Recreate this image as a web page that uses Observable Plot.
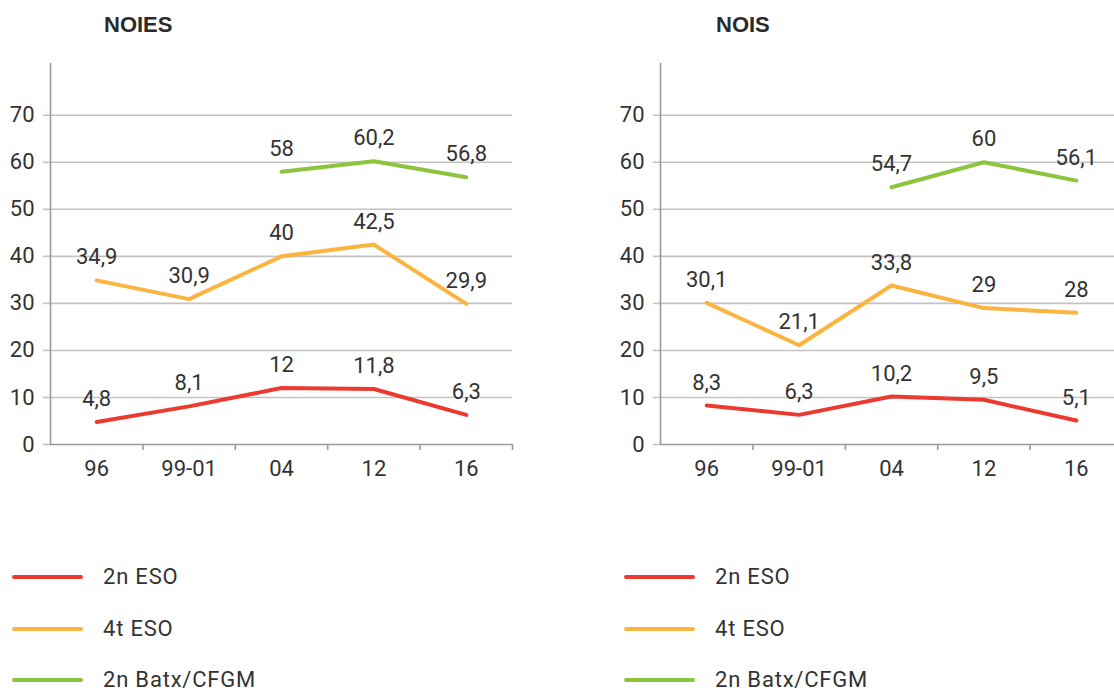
<!DOCTYPE html>
<html>
<head>
<meta charset="utf-8">
<script src="https://cdn.jsdelivr.net/npm/d3@7"></script>
<script src="https://cdn.jsdelivr.net/npm/@observablehq/plot@0.6"></script>
<style>
  html, body { margin: 0; padding: 0; background: #fff; overflow: hidden; }
  #page { position: relative; width: 1114px; height: 691px; overflow: hidden; }
  .title { position: absolute; font-family: "Liberation Sans", Arial, sans-serif; font-weight: bold; font-size: 22px; line-height: 22px; color: #2b2b2b; }
  .panel { position: absolute; top: 50px; }
  .panel svg { max-width: none !important; }
  .leg { position: absolute; height: 16px; display: flex; align-items: center; font-family: Roboto, sans-serif; font-size: 22px; line-height: 16px; color: #333; letter-spacing: 0.8px; white-space: nowrap; }
  .leg .sw { width: 71px; height: 4px; border-radius: 2px; margin-right: 20px; }
</style>
</head>
<body>
<div id="page"></div>
<script>
// ---- data ----
const categories = ["96", "99-01", "04", "12", "16"];
const seriesNames = ["2n ESO", "4t ESO", "2n Batx/CFGM"];
const seriesColors = ["#eb3a2f", "#fbb43f", "#8cc43d"];
const panelTitles = ["NOIES", "NOIS"];

const noies2ESO  = [4.8, 8.1, 12, 11.8, 6.3];
const noies4ESO  = [34.9, 30.9, 40, 42.5, 29.9];
const noiesBatx  = [null, null, 58, 60.2, 56.8];

const nois2ESO   = [8.3, 6.3, 10.2, 9.5, 5.1];
const nois4ESO   = [30.1, 21.1, 33.8, 29, 28];
const noisBatx   = [null, null, 54.7, 60, 56.1];

const yTicks = [0, 10, 20, 30, 40, 50, 60, 70];

// ---- helpers ----
const fmt = v => String(v).replace(".", ",");
function rowsFor(seriesArrays) {
  const rows = [];
  seriesArrays.forEach((arr, s) => {
    arr.forEach((v, i) => rows.push({series: seriesNames[s], i, value: v}));
  });
  return rows;
}

const catIdx = categories.map((_, i) => i);
const boundaries = categories.map((_, i) => i + 0.5);

function makePanel(seriesArrays, opts) {
  const rows = rowsFor(seriesArrays);
  return Plot.plot({
    width: opts.width,
    height: 440,
    marginLeft: opts.marginLeft,
    marginRight: opts.marginRight,
    marginTop: 13,
    marginBottom: 46,
    style: {fontFamily: "Roboto, sans-serif", fontSize: "22px", color: "#333", background: "transparent", overflow: "visible"},
    x: {type: "linear", domain: [-0.5, categories.length - 0.5]},
    y: {domain: [0, 81]},
    color: {domain: seriesNames, range: seriesColors},
    marks: [
      Plot.gridY(yTicks.filter(t => t > 0), {stroke: "#c3c3c3", strokeOpacity: 1, strokeWidth: 1.6}),
      Plot.axisY(yTicks, {label: null, tickSize: 7, tickPadding: 9, stroke: "#c3c3c3", strokeWidth: 1.6, fill: "#333", fontSize: 22, letterSpacing: 0.5}),
      Plot.ruleX([-0.5], {stroke: "#9a9a9a", strokeWidth: 1.6}),
      Plot.ruleY([0], {stroke: "#9a9a9a", strokeWidth: 1.6}),
      Plot.axisX(boundaries, {label: null, tickSize: 6, tickFormat: () => "", stroke: "#9a9a9a", strokeWidth: 1.6}),
      Plot.axisX(catIdx, {label: null, tickSize: 0, tickPadding: 16, tickFormat: i => categories[i], fill: "#333", fontSize: 22, letterSpacing: 0.5}),
      Plot.line(rows, {x: "i", y: "value", z: "series", stroke: "series", strokeWidth: 4, strokeLinejoin: "round", strokeLinecap: "round"}),
      Plot.text(rows.filter(d => d.value != null), {x: "i", y: "value", text: d => fmt(d.value), dy: -23, fill: "#333", fontSize: 22, letterSpacing: 0.8, lineAnchor: "middle"})
    ]
  });
}

const page = document.getElementById("page");

const panels = [
  {data: [noies2ESO, noies4ESO, noiesBatx], left: 0, width: 557, marginLeft: 50, marginRight: 45, titleX: 104, legLineX: 12},
  {data: [nois2ESO, nois4ESO, noisBatx], left: 557, width: 580, marginLeft: 103, marginRight: 15, titleX: 716, legLineX: 624}
];

panels.forEach((p, k) => {
  const t = document.createElement("div");
  t.className = "title";
  t.style.left = p.titleX + "px";
  t.style.top = "14px";
  t.textContent = panelTitles[k];
  page.appendChild(t);

  const wrap = document.createElement("div");
  wrap.className = "panel";
  wrap.style.left = p.left + "px";
  wrap.style.width = p.width + "px";
  wrap.appendChild(makePanel(p.data, p));
  page.appendChild(wrap);

  seriesNames.forEach((name, s) => {
    const row = document.createElement("div");
    row.className = "leg";
    row.style.left = p.legLineX + "px";
    row.style.top = (577 + 51.5 * s - 8) + "px";
    const sw = document.createElement("span");
    sw.className = "sw";
    sw.style.background = seriesColors[s];
    const tx = document.createElement("span");
    tx.textContent = name;
    row.appendChild(sw);
    row.appendChild(tx);
    page.appendChild(row);
  });
});
</script>
</body>
</html>
